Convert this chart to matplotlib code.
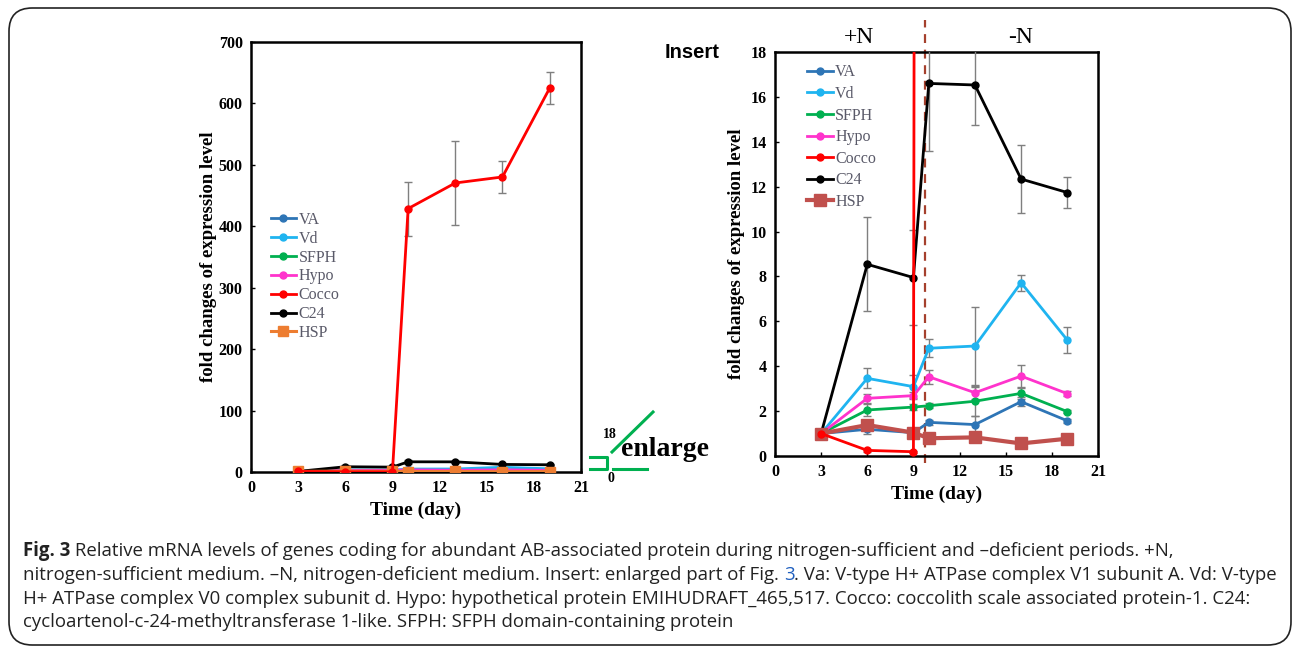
import matplotlib
matplotlib.use("Agg")
import matplotlib.pyplot as plt
from matplotlib.patches import FancyBboxPatch
from matplotlib.lines import Line2D

# -----------------------------
# Data (fold change vs day)
# -----------------------------
days = [3, 6, 9, 10, 13, 16, 19]
genes = ["VA", "Vd", "SFPH", "Hypo", "Cocco", "C24", "HSP"]

va = [1.0, 1.19, 1.04, 1.50, 1.40, 2.42, 1.57]
vd = [1.0, 3.46, 3.09, 4.80, 4.90, 7.72, 5.17]
sfph = [1.0, 2.05, 2.18, 2.24, 2.44, 2.79, 1.98]
hypo = [1.0, 2.57, 2.69, 3.53, 2.82, 3.56, 2.78]
cocco = [1.0, 0.25, 0.19, 428.8, 470.5, 480.3, 624.6]
c24 = [1.0, 8.54, 7.95, 16.60, 16.53, 12.34, 11.74]
hsp = [1.0, 1.38, 1.04, 0.79, 0.83, 0.56, 0.77]

va_err = [0.0, 0.20, 0.05, 0.10, 0.40, 0.20, 0.10]
vd_err = [0.0, 0.45, 0.50, 0.40, 1.73, 0.35, 0.58]
sfph_err = [0.0, 0.25, 0.15, 0.10, 0.65, 0.25, 0.05]
hypo_err = [0.0, 0.20, 0.15, 0.30, 0.30, 0.50, 0.10]
cocco_err = [0.0, 0.05, 0.05, 44.0, 68.0, 26.0, 26.0]
c24_err = [0.0, 2.10, 2.10, 3.00, 1.78, 1.50, 0.68]
hsp_err = [0.0, 0.10, 0.05, 0.05, 0.05, 0.05, 0.05]

values = [va, vd, sfph, hypo, cocco, c24, hsp]
errors = [va_err, vd_err, sfph_err, hypo_err, cocco_err, c24_err, hsp_err]

colors_left = ["#2E75B6", "#1FB4F0", "#00B050", "#FF33CC", "#FF0000", "#000000", "#ED7D31"]
colors_right = ["#2E75B6", "#1FB4F0", "#00B050", "#FF33CC", "#FF0000", "#000000", "#C0504D"]

xticks = [0, 3, 6, 9, 12, 15, 18, 21]

serif = "Liberation Serif"

fig = plt.figure(figsize=(12.92, 6.47), dpi=100)
W, H = 1292, 647


def px(x0, y0, x1, y1):
    return [x0 / W, 1 - y1 / H, (x1 - x0) / W, (y1 - y0) / H]


def style_axes(ax, ymax, ystep):
    ax.set_xlim(0, 21)
    ax.set_ylim(0, ymax)
    ax.set_xticks(xticks)
    ax.set_yticks(range(0, ymax + 1, ystep))
    for s in ax.spines.values():
        s.set_linewidth(1.8)
    ax.tick_params(direction="in", length=3, width=1, pad=6)
    for lab in ax.get_xticklabels() + ax.get_yticklabels():
        lab.set_fontfamily(serif)
        lab.set_fontweight("bold")
        lab.set_fontsize(11.5)


def draw_series(ax, colors, hsp_big):
    handles = []
    for i, name in enumerate(genes):
        is_hsp = name == "HSP"
        mk = "s" if is_hsp else "o"
        ms = (8 if hsp_big else 7) if is_hsp else 5
        lw = (3 if hsp_big else 2.2) if is_hsp else 2
        ax.errorbar(days, values[i], yerr=errors[i], color=colors[i],
                    ecolor="#7F7F7F", elinewidth=1, capsize=3, capthick=1,
                    marker=mk, markersize=ms, lw=lw, zorder=3 + (i == 4))
        handles.append(Line2D([], [], color=colors[i], marker=mk, markersize=ms,
                              lw=lw, label=name))
    return handles


def add_legend(ax, handles, anchor, spacing):
    leg = ax.legend(handles=handles, loc="upper left", bbox_to_anchor=anchor,
                    frameon=False, prop={"family": serif, "size": 11.5},
                    handlelength=1.6, handletextpad=0.15, labelspacing=spacing,
                    borderaxespad=0)
    for t in leg.get_texts():
        t.set_color("#595968")


# -----------------------------
# Left: full range
# -----------------------------
ax1 = fig.add_axes(px(251, 42, 581, 472))
h1 = draw_series(ax1, colors_left, False)
style_axes(ax1, 700, 100)
ax1.set_xlabel("Time (day)", fontfamily=serif, fontweight="bold", fontsize=14, labelpad=4)
ax1.set_ylabel("fold changes of expression level", fontfamily=serif,
               fontweight="bold", fontsize=13.5, labelpad=1)
add_legend(ax1, h1, (0.04, 0.62), 0.18)

# -----------------------------
# Right: enlarged 0-18
# -----------------------------
ax2 = fig.add_axes(px(775, 52, 1098, 456))
h2 = draw_series(ax2, colors_right, True)
style_axes(ax2, 18, 2)
ax2.set_xlabel("Time (day)", fontfamily=serif, fontweight="bold", fontsize=14, labelpad=4)
ax2.set_ylabel("fold changes of expression level", fontfamily=serif,
               fontweight="bold", fontsize=13.5, labelpad=4)
add_legend(ax2, h2, (0.08, 0.985), 0.35)
ax2.axvline(9.75, ymin=-0.018, ymax=1.08, color="#A5402D", ls=(0, (4, 3)),
            lw=1.6, clip_on=False, zorder=2)
ax2.text(0.26, 1.035, "+N", transform=ax2.transAxes, ha="center", va="center",
         fontfamily=serif, fontsize=17)
ax2.text(0.76, 1.035, "-N", transform=ax2.transAxes, ha="center", va="center",
         fontfamily=serif, fontsize=17)
fig.text(665 / W, 1 - 52 / H, "Insert", ha="left", va="center",
         fontfamily="Liberation Sans", fontweight="bold", fontsize=14.5)

# -----------------------------
# "enlarge" marker
# -----------------------------
green = "#00B050"
fig.add_artist(Line2D([590 / W, 606.5 / W, 606.5 / W, 590 / W],
                      [1 - 457 / H, 1 - 457 / H, 1 - 469 / H, 1 - 469 / H],
                      color=green, lw=2.2))
fig.add_artist(Line2D([612 / W, 653 / W], [1 - 452 / H, 1 - 412 / H], color=green, lw=2.2))
fig.add_artist(Line2D([613 / W, 647 / W], [1 - 469 / H, 1 - 469 / H], color=green, lw=2.2))
fig.text(610 / W, 1 - 434 / H, "18", ha="center", va="center", fontfamily=serif,
         fontweight="bold", fontsize=10)
fig.text(611 / W, 1 - 479 / H, "0", ha="center", va="center", fontfamily=serif,
         fontweight="bold", fontsize=10)
fig.text(665 / W, 1 - 450 / H, "enlarge", ha="center", va="center", fontfamily=serif,
         fontweight="bold", fontsize=20)

# -----------------------------
# Frame and caption
# -----------------------------
fig.add_artist(FancyBboxPatch((9 / W, 1 - 645 / H), 1282 / W, 637 / H,
                              boxstyle="round,pad=0,rounding_size=0.018",
                              transform=fig.transFigure, fill=False,
                              ec="#222222", lw=1.2, mutation_aspect=W / H))

cap_font = "Open Sans"
cap_size = 13.45
x_start = 23
baselines = [556, 580, 604, 627]

caption = [
    [("Fig. 3", "bold", "#222222"),
     (" Relative mRNA levels of genes coding for abundant AB-associated protein during "
      "nitrogen-sufficient and \u2013deficient periods. +N,", "normal", "#222222")],
    [("nitrogen-sufficient medium. \u2013N, nitrogen-deficient medium. Insert: enlarged part of Fig. ",
      "normal", "#222222"),
     ("3", "normal", "#1F5FBF"),
     (". Va: V-type H+ ATPase complex V1 subunit A. Vd: V-type", "normal", "#222222")],
    [("H+ ATPase complex V0 complex subunit d. Hypo: hypothetical protein EMIHUDRAFT_465,517. "
      "Cocco: coccolith scale associated protein-1. C24:", "normal", "#222222")],
    [("cycloartenol-c-24-methyltransferase 1-like. SFPH: SFPH domain-containing protein",
      "normal", "#222222")],
]

renderer = fig.canvas.get_renderer()
for line, base in zip(caption, baselines):
    x = x_start
    for txt, weight, col in line:
        t = fig.text(x / W, 1 - base / H, txt, ha="left", va="baseline",
                     fontfamily=cap_font, fontweight=weight, fontsize=cap_size, color=col)
        bb = t.get_window_extent(renderer=renderer)
        x += bb.width

fig.savefig("out.png", dpi=100)
